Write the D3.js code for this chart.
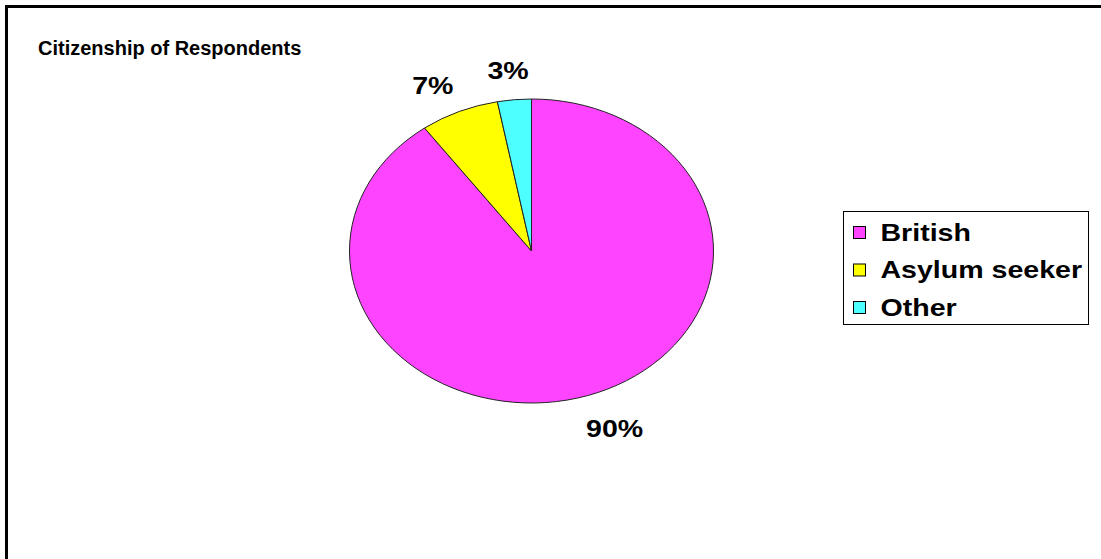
<!DOCTYPE html>
<html>
<head>
<meta charset="utf-8">
<script src="https://cdn.jsdelivr.net/npm/d3@7"></script>
<style>
  html, body { margin: 0; padding: 0; background: #fff; }
  svg { display: block; }
  text { font-family: "Liberation Sans", Arial, sans-serif; font-weight: bold; fill: #000; }
</style>
</head>
<body>
<script>
// Citizenship of respondents (percent)
const categories = ["British", "Asylum seeker", "Other"];
const values = [90, 7, 3];
const valueLabels = ["90%", "7%", "3%"];
const colors = ["#ff44ff", "#ffff00", "#4dffff"];
const title = "Citizenship of Respondents";

const W = 1101, H = 559;
const stretch = 1.19; // labels and legend text are drawn wider than tall
const svg = d3.select("body").append("svg").attr("width", W).attr("height", H);

// chart frame (top and left edges visible, the rest runs off the page)
svg.append("rect")
  .attr("x", 6.5).attr("y", 6.5)
  .attr("width", W + 10).attr("height", H + 10)
  .attr("fill", "#fff").attr("stroke", "#000").attr("stroke-width", 3);

svg.append("text")
  .attr("x", 38).attr("y", 55)
  .attr("font-size", 20)
  .text(title);

// pie drawn as a horizontally stretched ellipse
const cx = 531.5, cy = 251, rx = 182, ry = 152;
const pie = d3.pie().sort(null).value(d => d)(values);
const arc = d3.arc().innerRadius(0).outerRadius(ry);

const gPie = svg.append("g")
  .attr("transform", `translate(${cx},${cy}) scale(${rx / ry},1)`);
gPie.selectAll("path")
  .data(pie)
  .join("path")
  .attr("d", arc)
  .attr("fill", (d, i) => colors[i])
  .attr("stroke", "#222")
  .attr("stroke-width", 1)
  .attr("vector-effect", "non-scaling-stroke");

// percentage labels, placed just outside the rim along each slice's mid-angle
const labelG = svg.append("g").attr("transform", `translate(${cx},${cy})`);
labelG.selectAll("text")
  .data(pie)
  .join("text")
  .attr("font-size", 24)
  .attr("text-anchor", "middle")
  .attr("dominant-baseline", "central")
  .text((d, i) => valueLabels[i])
  .each(function (d) {
    const a = (d.startAngle + d.endAngle) / 2;
    const s = Math.sin(a), c = -Math.cos(a);
    const w = this.getComputedTextLength() * stretch;
    const x = s * (rx * 1.07 + w * 1.3);
    const y = c * (ry * 1.07 + 21) + 3;
    d3.select(this).attr("transform", `translate(${x},${y}) scale(${stretch},1)`);
  });

// legend
const lg = svg.append("g").attr("transform", "translate(843.5,211.5)");
lg.append("rect")
  .attr("width", 245).attr("height", 113)
  .attr("fill", "#fff").attr("stroke", "#000").attr("stroke-width", 1);
const item = lg.selectAll("g.item")
  .data(categories)
  .join("g")
  .attr("class", "item")
  .attr("transform", (d, i) => `translate(10,${21 + i * 37.5})`);
item.append("rect")
  .attr("x", 0).attr("y", -6).attr("width", 12).attr("height", 12)
  .attr("fill", (d, i) => colors[i])
  .attr("stroke", "#000").attr("stroke-width", 1);
item.append("text")
  .attr("transform", `translate(27,0) scale(${stretch},1)`)
  .attr("dominant-baseline", "central")
  .attr("font-size", 24)
  .text(d => d);
</script>
</body>
</html>
